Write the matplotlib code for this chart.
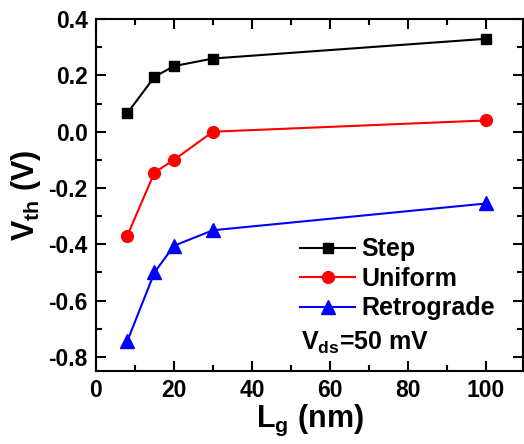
import matplotlib
matplotlib.use('Agg')
import matplotlib.pyplot as plt
from matplotlib.ticker import MultipleLocator

plt.rcParams['font.family'] = 'Liberation Sans'
plt.rcParams['font.weight'] = 'bold'
plt.rcParams['axes.labelweight'] = 'bold'
plt.rcParams['mathtext.fontset'] = 'custom'
plt.rcParams['mathtext.rm'] = 'Liberation Sans:bold'
plt.rcParams['mathtext.it'] = 'Liberation Sans:bold'
plt.rcParams['mathtext.bf'] = 'Liberation Sans:bold'
plt.rcParams['mathtext.default'] = 'regular'

lg = [8, 15, 20, 30, 100]
step = [0.065, 0.195, 0.233, 0.260, 0.330]
uniform = [-0.370, -0.145, -0.100, 0.000, 0.040]
retrograde = [-0.745, -0.500, -0.405, -0.350, -0.255]

fig = plt.figure(figsize=(5.24, 4.44), dpi=100)
ax = fig.add_axes([0.1832, 0.1644, 0.8148, 0.7926])

ax.plot(lg, step, color='black', marker='s', markersize=7, linewidth=1.5, label='Step')
ax.plot(lg, uniform, color='red', marker='o', markersize=8.5, linewidth=1.5, label='Uniform')
ax.plot(lg, retrograde, color='blue', marker='^', markersize=9.5, linewidth=1.5, label='Retrograde')

ax.set_xlim(0, 109.5)
ax.set_ylim(-0.85, 0.4)
ax.xaxis.set_major_locator(MultipleLocator(20))
ax.xaxis.set_minor_locator(MultipleLocator(10))
ax.yaxis.set_major_locator(MultipleLocator(0.2))
ax.yaxis.set_minor_locator(MultipleLocator(0.1))
ax.yaxis.set_major_formatter(plt.FuncFormatter(lambda v, p: '%.1f' % v))

ax.tick_params(which='both', direction='in', top=True, right=True, width=1.5, labelsize=16.5)
ax.tick_params(which='major', length=7, pad=6)
ax.tick_params(which='minor', length=4)
for s in ax.spines.values():
    s.set_linewidth(1.5)

ax.set_xlabel(r'L$_{\rm g}$ (nm)', fontsize=22, labelpad=0)
ax.set_ylabel(r'V$_{\rm th}$ (V)', fontsize=22, labelpad=4)

ax.legend(loc='center left', bbox_to_anchor=(0.478, 0.262), frameon=False, fontsize=18,
          handlelength=2.2, handletextpad=0.25, labelspacing=0.22, borderaxespad=0, borderpad=0)
ax.text(0.479, 0.06, r'V$_{\rm ds}$=50 mV', transform=ax.transAxes, fontsize=18,
        ha='left', va='baseline')

fig.savefig('out.png', dpi=100)
